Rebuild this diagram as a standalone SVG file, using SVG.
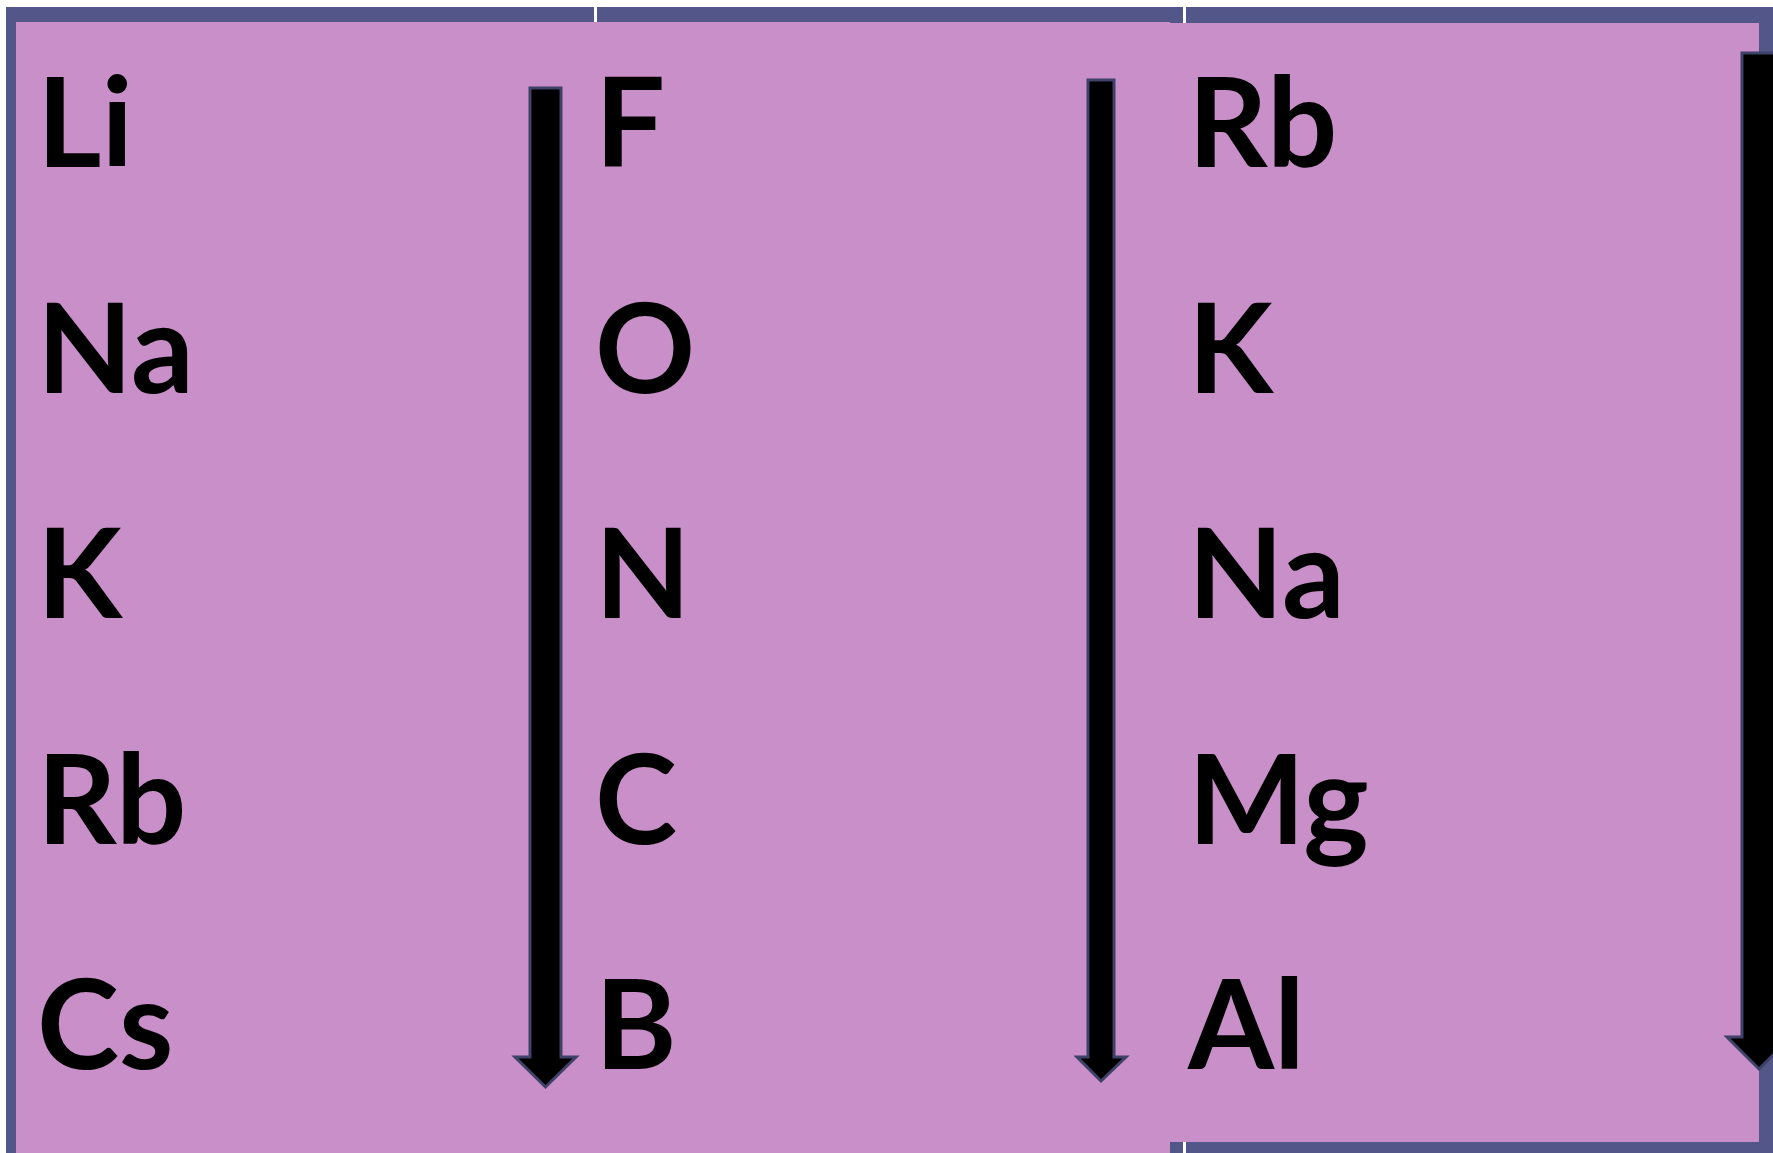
<svg xmlns="http://www.w3.org/2000/svg" width="1773" height="1153" viewBox="0 0 1773 1153">
<style>
.band{fill:#535689}
.bg{fill:#C98FC8}
.gap{fill:#FFFFFF}
.lbl{font-family:"Lato","Open Sans","Liberation Sans",sans-serif;font-weight:bold;font-size:124px;fill:#000000}
.arrow{fill:#000000;stroke:#3E4168;stroke-width:3;stroke-linejoin:miter}
</style>
<rect x="0" y="0" width="1773" height="1153" fill="#FFFFFF"/>
<g id="frame">
<rect class="band" x="6" y="7" width="1767" height="1146"/>
<rect class="bg" x="16" y="22" width="1154" height="1131"/>
<rect class="bg" x="1170" y="23" width="589" height="1119"/>
<rect class="gap" x="594" y="7" width="3" height="15"/>
<rect class="gap" x="1183" y="7" width="3" height="16"/>
<rect class="gap" x="1183" y="1142" width="3" height="11"/>
</g>
<g id="connectors">
<path id="arrow1" class="arrow" d="M530,88 H561 V1057 H576 L545.5,1087 L515,1057 H530 Z"/>
<path id="arrow2" class="arrow" d="M1088,80 H1114 V1057 H1126 L1101,1081 L1077,1057 H1088 Z"/>
<path id="arrow3" class="arrow" d="M1742,53 H1776 V1037 H1791 L1759,1069 L1727,1037 H1742 Z"/>
</g>
<g id="col1">
<g id="n-li"><text class="lbl" x="37" y="167">Li</text></g>
<g id="n-na1"><text class="lbl" x="37" y="393">Na</text></g>
<g id="n-k1"><text class="lbl" x="37" y="618">K</text></g>
<g id="n-rb1"><text class="lbl" x="37" y="844">Rb</text></g>
<g id="n-cs"><text class="lbl" x="37" y="1069">Cs</text></g>
</g>
<g id="col2">
<g id="n-f"><text class="lbl" x="595" y="167">F</text></g>
<g id="n-o"><text class="lbl" x="595" y="393">O</text></g>
<g id="n-n"><text class="lbl" x="595" y="618">N</text></g>
<g id="n-c"><text class="lbl" x="595" y="844">C</text></g>
<g id="n-b"><text class="lbl" x="595" y="1069">B</text></g>
</g>
<g id="col3">
<g id="n-rb2"><text class="lbl" x="1188" y="167">Rb</text></g>
<g id="n-k2"><text class="lbl" x="1188" y="393">K</text></g>
<g id="n-na2"><text class="lbl" x="1188" y="618">Na</text></g>
<g id="n-mg"><text class="lbl" x="1188" y="844">Mg</text></g>
<g id="n-al"><text class="lbl" x="1188" y="1069">Al</text></g>
</g>
</svg>
